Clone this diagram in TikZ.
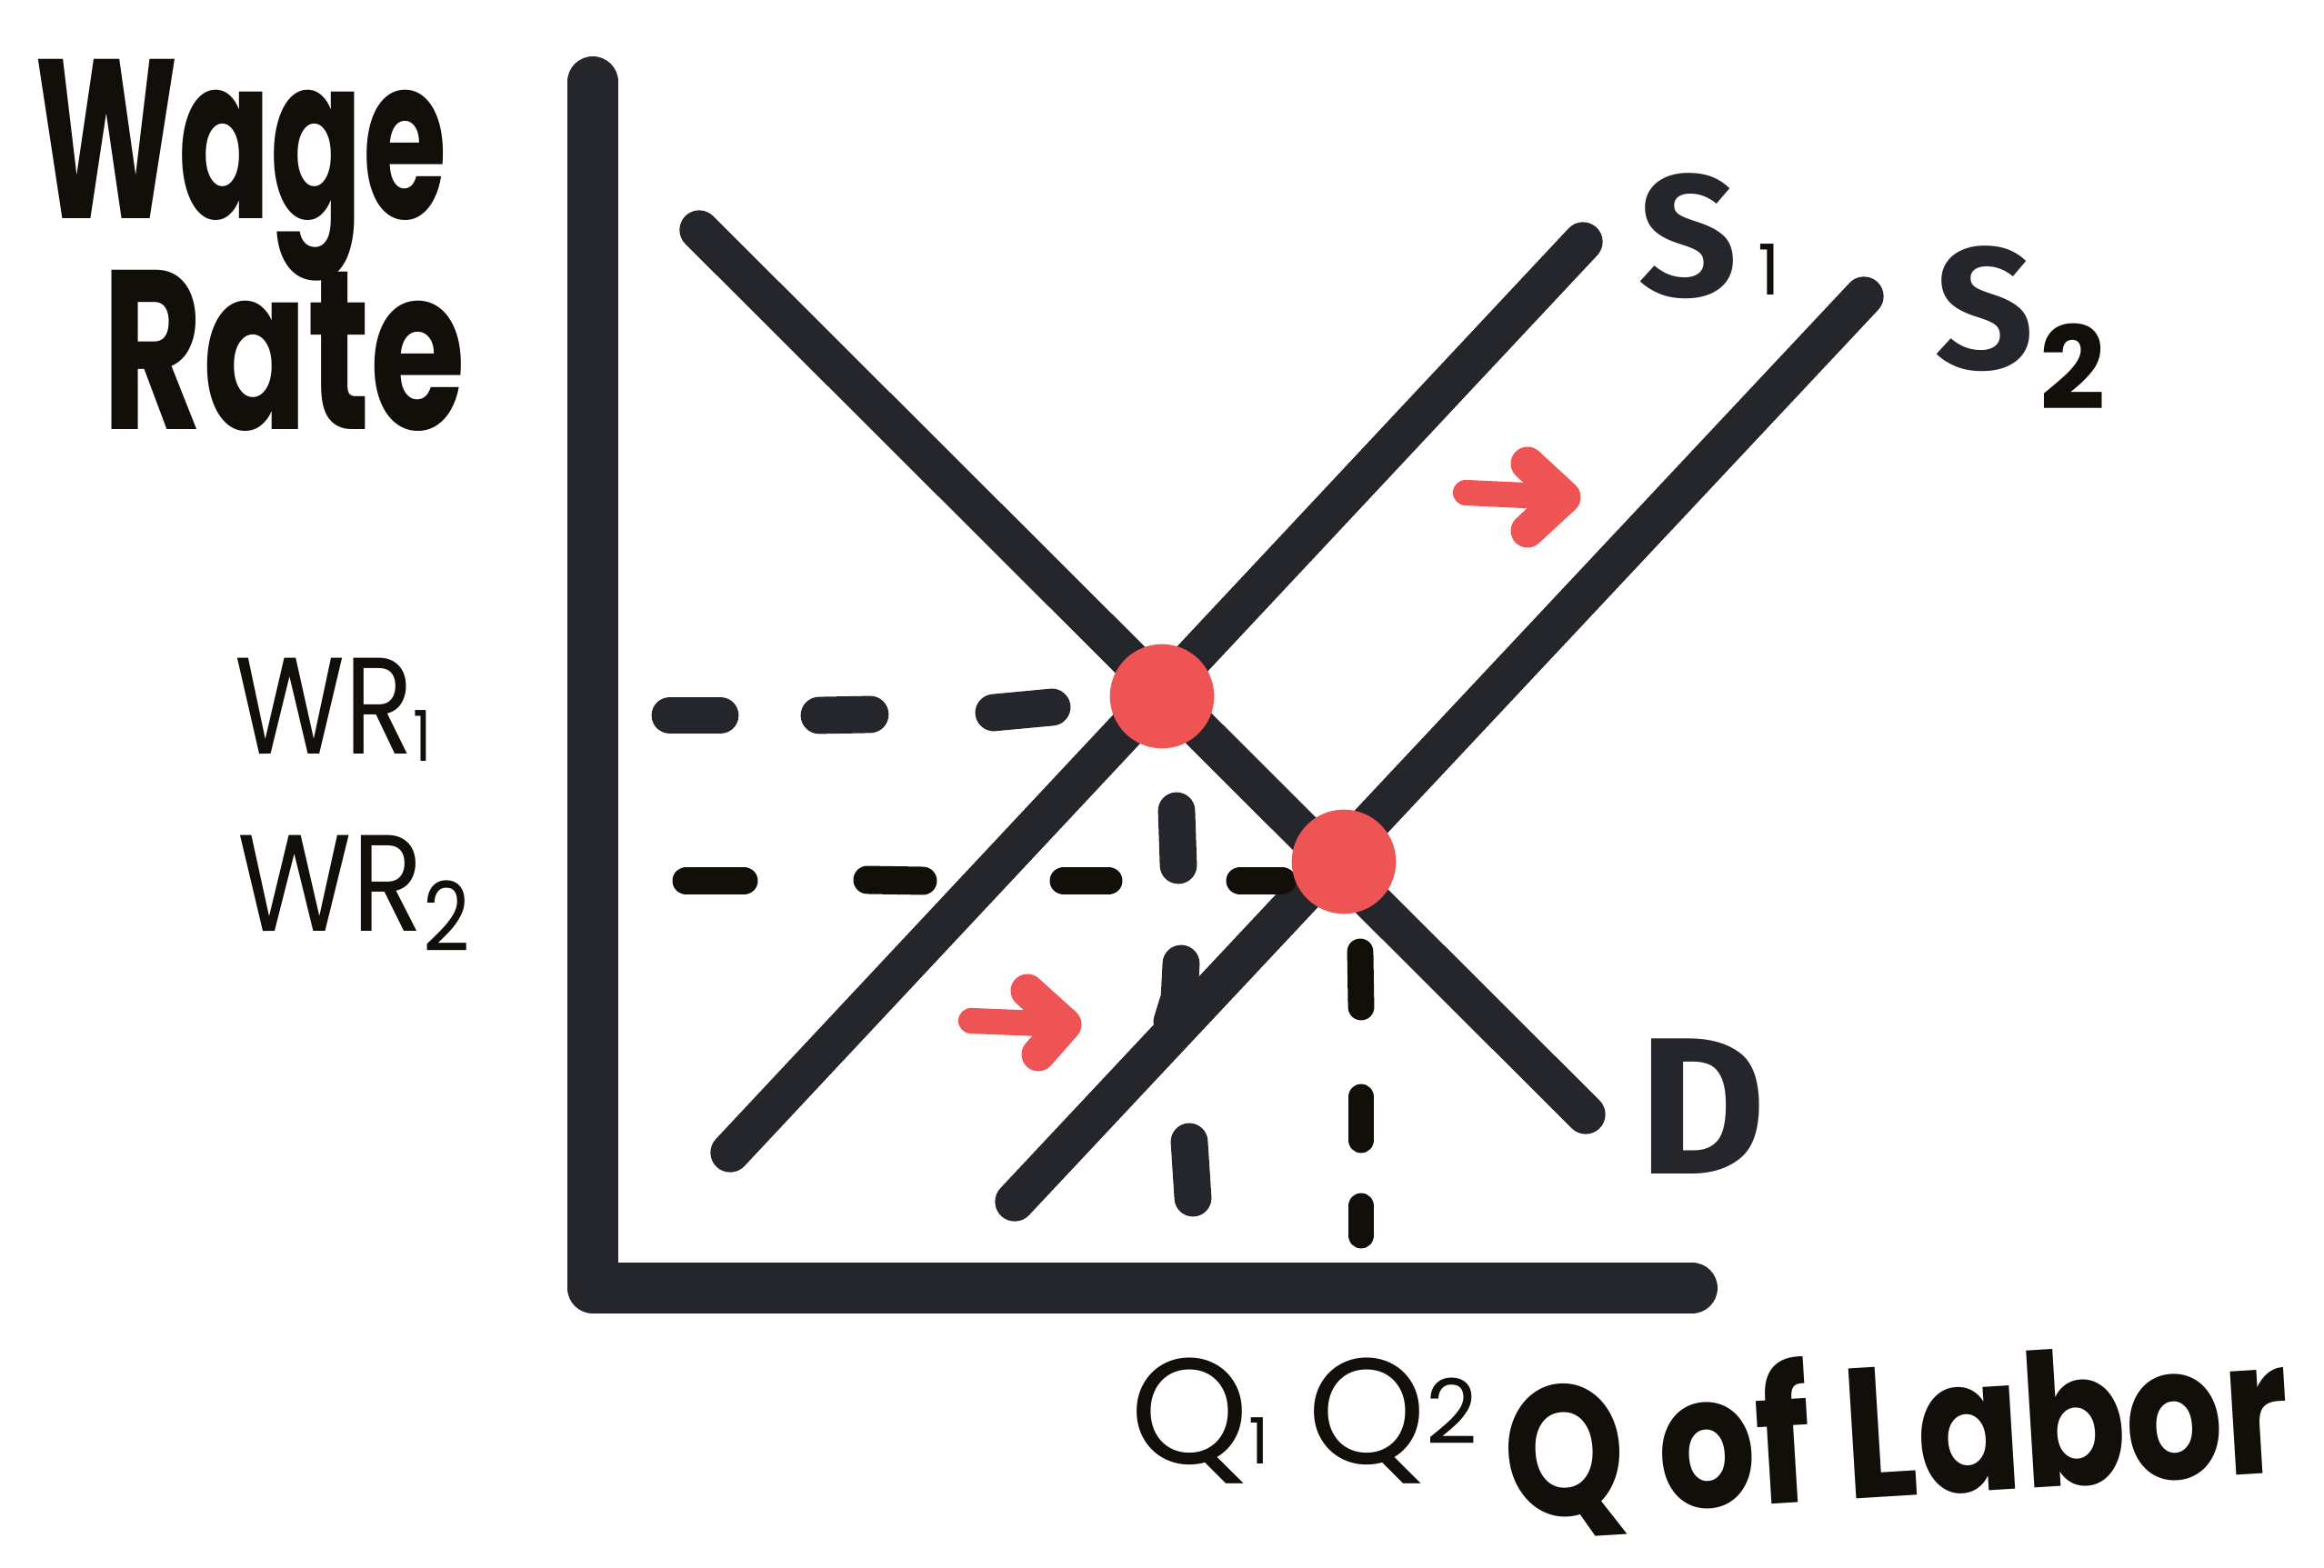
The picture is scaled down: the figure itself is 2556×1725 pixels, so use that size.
\documentclass[tikz,border=0pt]{standalone}
\usepackage{fontspec}
\setmainfont{Poppins}
\newfontfamily\labfont{Fira Sans}
\definecolor{ink}{HTML}{25262B}
\definecolor{blk}{HTML}{120E0A}
\definecolor{redc}{HTML}{EF5454}
\begin{document}
\begin{tikzpicture}[x=0.01cm,y=-0.01cm,
  axisline/.style={line width=15.9pt, draw=ink, line cap=round, line join=round},
  curve/.style={line width=12.3pt, draw=ink, line cap=round},
  gdash/.style={line width=11.6pt, draw=ink, line cap=round},
  bdash/.style={line width=8.8pt, draw=blk, line cap=round},
  shiftarrow/.style={line width=8pt, draw=redc, line cap=round, line join=round},
  arrowhead/.style={line width=10.5pt, draw=redc, line cap=round, line join=round},
  eq/.style={circle, fill=redc, minimum size=32.6pt, inner sep=0pt},
  hand/.style={inner sep=0pt, text=blk, anchor=base west},
  curvelab/.style={inner sep=0pt, text=ink, font=\labfont\bfseries\fontsize{54}{54}\selectfont},
]
\useasboundingbox (0,0) rectangle (2556,1725);
% axes
\coordinate (Ytop) at (652,90);
\coordinate (O) at (652,1417);
\coordinate (Xend) at (1861,1417);
\draw[axisline] (Ytop) -- (O) -- (Xend);
% curves
\coordinate (Dtop) at (769,253);
\coordinate (Dbot) at (1744,1226);
\coordinate (S1bot) at (803,1268);
\coordinate (S1top) at (1741,266);
\coordinate (S2bot) at (1116,1322);
\coordinate (S2top) at (2050,326);
\draw[curve] (Dtop) -- (Dbot);
\draw[curve] (S1bot) -- (S1top);
\draw[curve] (S2bot) -- (S2top);
% WR1 dashes
\coordinate (a1) at (737,787); \coordinate (a2) at (792,787);
\coordinate (a3) at (901,787); \coordinate (a4) at (957,786);
\coordinate (a5) at (1093,784); \coordinate (a6) at (1157,778);
\draw[gdash] (a1) -- (a2);
\draw[gdash] (a3) -- (a4);
\draw[gdash] (a5) -- (a6);
% WR2 dashes
\coordinate (b1) at (755,969); \coordinate (b2) at (818,969);
\coordinate (b3) at (954,968); \coordinate (b4) at (1015,969);
\coordinate (b5) at (1170,969); \coordinate (b6) at (1219,969);
\coordinate (b7) at (1364,969); \coordinate (b8) at (1410,969);
\draw[bdash] (b1) -- (b2);
\draw[bdash] (b3) -- (b4);
\draw[bdash] (b5) -- (b6);
\draw[bdash] (b7) -- (b8);
% Q1 dashes
\coordinate (c1) at (1294,892); \coordinate (c2) at (1296,952);
\coordinate (c3) at (1299,1060); \coordinate (c4) at (1297,1098); \coordinate (c5) at (1289,1124);
\coordinate (c6) at (1308,1256); \coordinate (c7) at (1312,1318);
\draw[gdash] (c1) -- (c2);
\draw[gdash, line join=round] (c3) -- (c4) -- (c5);
\draw[gdash] (c6) -- (c7);
% Q2 dashes
\coordinate (d1) at (1496,1047); \coordinate (d2) at (1497,1108);
\coordinate (d3) at (1497,1207); \coordinate (d4) at (1497,1254);
\coordinate (d5) at (1497,1327); \coordinate (d6) at (1497,1359);
\draw[bdash, line width=8.2pt] (d1) -- (d2);
\draw[bdash, line width=8.2pt] (d3) -- (d4);
\draw[bdash, line width=8.2pt] (d5) -- (d6);
% equilibria
\node[eq] (E1) at (1278,766) {};
\node[eq] (E2) at (1478,948) {};
% shift arrows
\coordinate (r1) at (1612,542); \coordinate (r4) at (1720,547);
\coordinate (r3) at (1680,510); \coordinate (r5) at (1680,584);
\draw[shiftarrow] (r1) -- (r4);
\draw[arrowhead] (r3) -- (r4) -- (r5);
\coordinate (s1) at (1068,1123); \coordinate (s4) at (1171,1127);
\coordinate (s3) at (1130,1090); \coordinate (s5) at (1142,1160);
\draw[shiftarrow] (s1) -- (s4);
\draw[arrowhead] (s3) -- (s4) -- (s5);
% axis titles
\node[hand, xscale=0.6, font=\bfseries\fontsize{71}{71}\selectfont] (wage) at (38,241) {Wage};
\node[hand, xscale=0.68, font=\bfseries\fontsize{71}{71}\selectfont] (rate) at (112,473) {Rate};
\node[hand, rotate=3.5, xscale=0.83, font=\bfseries\fontsize{58}{58}\selectfont] (qlab) at (1658,1672) {Q of Labor};
% level labels
\node[hand, xscale=0.82, font=\fontsize{43}{43}\selectfont] (wr1) at (258,830) {WR\raisebox{-2pt}{\fontsize{22}{22}\selectfont 1}};
\node[hand, xscale=0.85, font=\fontsize{43}{43}\selectfont] (wr2) at (261,1025) {WR\raisebox{-6pt}{\fontsize{30}{30}\selectfont 2}};
\node[hand, font=\fontsize{47}{47}\selectfont] (q1) at (1243,1610) {Q\fontsize{20}{20}\selectfont 1};
\node[hand, font=\fontsize{47}{47}\selectfont] (q2) at (1438,1610) {Q\raisebox{6pt}{\fontsize{28}{28}\selectfont 2}};
% curve labels
\node[curvelab] (S1lab) at (1857,260) {S};
\node[inner sep=0pt, text=blk, font=\fontsize{22}{22}\selectfont] (S1sub) at (1946,297) {1};
\node[curvelab] (S2lab) at (2183,340) {S};
\node[inner sep=0pt, text=blk, font=\bfseries\fontsize{36}{36}\selectfont] (S2sub) at (2280,403) {2};
\node[curvelab, font=\labfont\bfseries\fontsize{61}{61}\selectfont] (Dlab) at (1872,1217) {D};
\end{tikzpicture}
\end{document}
